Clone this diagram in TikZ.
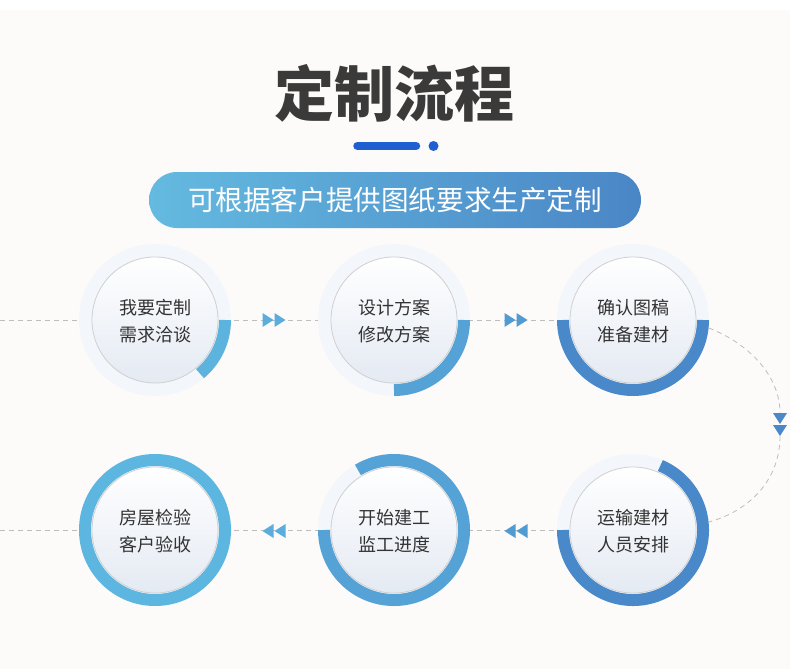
\documentclass[tikz,border=0pt]{standalone}
\usepackage{fontspec}
\newfontfamily\cjk{Noto Sans CJK SC}
\definecolor{bgc}{HTML}{FCFBF9}
\definecolor{ringc}{HTML}{F3F6FA}
\definecolor{bordc}{HTML}{D0D0D0}
\definecolor{innerc}{HTML}{E4EAF3}
\definecolor{txtc}{HTML}{333333}
\definecolor{titlec}{HTML}{3A3A3A}
\definecolor{barc}{HTML}{1F5FCF}
\definecolor{banl}{HTML}{64BAE0}
\definecolor{banr}{HTML}{4A86C6}
\definecolor{pa}{HTML}{5CB4DE}
\definecolor{pb}{HTML}{55A2D6}
\definecolor{pc}{HTML}{4A89C9}
\definecolor{pf}{HTML}{5CB6E0}
\definecolor{dashc}{HTML}{BDBDBD}
\definecolor{aa}{HTML}{5AADDC}
\definecolor{ab}{HTML}{519BD3}
\definecolor{ac}{HTML}{4A88C8}
\pgfdeclarelayer{bglayer}
\pgfdeclarelayer{linelayer}
\pgfsetlayers{bglayer,linelayer,main}
\begin{document}
\begin{tikzpicture}[x=1pt,y=-1pt,
  ring/.style={circle, minimum size=152pt, inner sep=0pt, fill=ringc},
  innerdisk/.style={circle, minimum size=126pt, inner sep=0pt, draw=bordc, line width=0.8pt, top color=white, bottom color=innerc},
  lbl/.style={font=\cjk\fontsize{18}{27}\selectfont, text=txtc, align=center, inner sep=0pt},
  dashline/.style={draw=dashc, dash pattern=on 5pt off 4pt, line width=0.8pt},
  prog/.style={line width=12pt},
  dblarrow/.pic={\fill (-11.5,-7) -- (-0.5,0) -- (-11.5,7) -- cycle;
                 \fill (0.5,-7) -- (11.5,0) -- (0.5,7) -- cycle;},
  banner/.style={minimum width=492pt, minimum height=56pt, rounded corners=28pt, left color=banl, right color=banr, text=white, font=\cjk\fontsize{27.6}{27.6}\selectfont, inner sep=0pt}
]
\useasboundingbox (0,0) rectangle (790,669);
\begin{pgfonlayer}{bglayer}
  \fill[white] (0,0) rectangle (790,10);
  \fill[bgc] (0,10) rectangle (790,669);
\end{pgfonlayer}

% title
\node[font=\cjk\bfseries\fontsize{60}{60}\selectfont, text=titlec, inner sep=0pt] (title) at (394,93) {定制流程};
\coordinate (barL) at (357.5,146);
\coordinate (barR) at (416,146);
\coordinate (dot) at (433.5,146);
\draw[barc, line width=8.5pt, line cap=round] (barL) -- (barR);
\fill[barc] (dot) circle (5);

% banner
\node[banner] (ban) at (395,200) {可根据客户提供图纸要求生产定制};

% circles
\node[ring] (c1) at (155,320) {};
\node[ring] (c2) at (394,320) {};
\node[ring] (c3) at (633,320) {};
\node[ring] (c4) at (633,530) {};
\node[ring] (c5) at (394,530) {};
\node[ring] (c6) at (155,530) {};

\draw[prog, pa] (c1.center) ++(0:70) arc[start angle=0, end angle=50, radius=70];
\draw[prog, pb] (c2.center) ++(0:70) arc[start angle=0, end angle=90, radius=70];
\draw[prog, pc] (c3.center) ++(0:70) arc[start angle=0, end angle=180, radius=70];
\draw[prog, pc] (c4.center) ++(-67:70) arc[start angle=-67, end angle=180, radius=70];
\draw[prog, pb] (c5.center) ++(-121:70) arc[start angle=-121, end angle=180, radius=70];
\draw[prog, pf] (c6.center) circle (70);

\foreach \c in {1,...,6} { \node[innerdisk] (i\c) at (c\c) {}; }

\node[lbl] (t1) at ([yshift=-1]c1) {我要定制\\需求洽谈};
\node[lbl] (t2) at ([yshift=-1]c2) {设计方案\\修改方案};
\node[lbl] (t3) at ([yshift=-1]c3) {确认图稿\\准备建材};
\node[lbl] (t4) at ([yshift=-1]c4) {运输建材\\人员安排};
\node[lbl] (t5) at ([yshift=-1]c5) {开始建工\\监工进度};
\node[lbl] (t6) at ([yshift=-1]c6) {房屋检验\\客户验收};

% connectors
\coordinate (L1) at (0,320);
\coordinate (L2) at (0,530);
\coordinate (dA) at (780,413);
\coordinate (dB) at (780,436);
\coordinate (dM) at (780,424.5);
\coordinate (a12) at (274,320);
\coordinate (a23) at (516,320);
\coordinate (a45) at (516,531);
\coordinate (a56) at (274,531);
\begin{pgfonlayer}{linelayer}
  \draw[dashline] (L1) -- (c1.center) -- (c2.center) -- (c3.center);
  \draw[dashline] (c3.-6) .. controls (752,345) and (780,378) .. (dA);
  \draw[dashline] (dB) .. controls (780,478) and (752,510) .. (c4.6);
  \draw[dashline] (L2) -- (c6.center) -- (c5.center) -- (c4.center);
\end{pgfonlayer}
\pic[fill=aa] at (a12) {dblarrow};
\pic[fill=ab] at (a23) {dblarrow};
\pic[fill=ac, rotate=-90] at (dM) {dblarrow};
\pic[fill=ab, rotate=180] at (a45) {dblarrow};
\pic[fill=aa, rotate=180] at (a56) {dblarrow};
\end{tikzpicture}
\end{document}
